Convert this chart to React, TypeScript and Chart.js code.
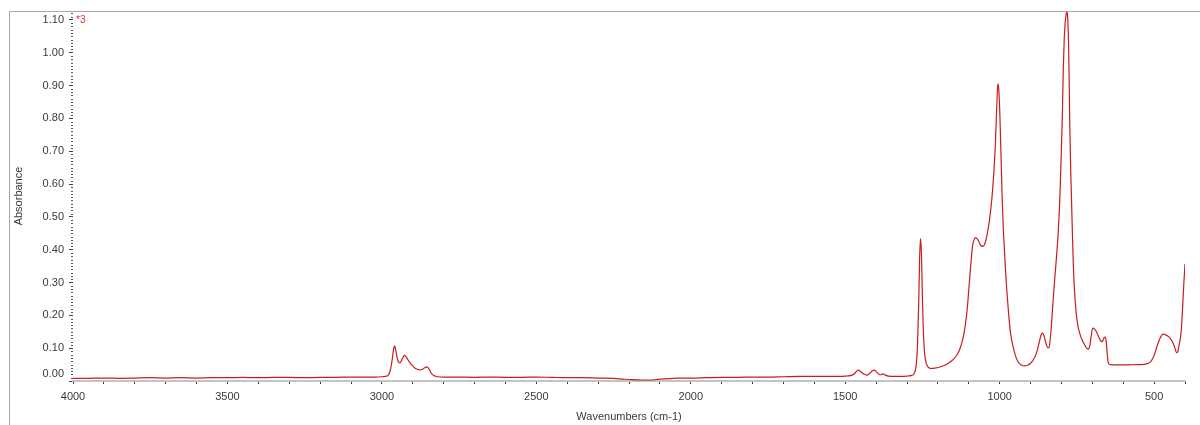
import React, { useEffect, useRef } from "react";
import { Chart, registerables } from "chart.js";

Chart.register(...registerables);

const wavenumbers = [
  4000, 3950, 3900, 3850, 3800, 3750, 3700, 3650, 3600, 3550, 3500, 3450, 3400, 3350, 3300, 3250, 3200, 3150, 3100, 3050,
  3020, 3000, 2990, 2980, 2972, 2966, 2962, 2959, 2956, 2951, 2946, 2942, 2937, 2931, 2927, 2922, 2915, 2908, 2900, 2892,
  2884, 2876, 2868, 2860, 2855, 2850, 2844, 2838, 2830, 2820, 2800, 2750, 2700, 2650, 2600, 2550, 2500, 2450, 2400, 2350,
  2300, 2250, 2220, 2190, 2160, 2130, 2100, 2070, 2040, 2000, 1950, 1900, 1850, 1800, 1750, 1700, 1650, 1600, 1550, 1500,
  1480, 1470, 1463, 1458, 1450, 1440, 1430, 1420, 1412, 1406, 1398, 1390, 1384, 1378, 1370, 1360, 1340, 1320, 1300, 1285,
  1276, 1270, 1266, 1262, 1259, 1256, 1253, 1250, 1247, 1243, 1238, 1232, 1222, 1210, 1195, 1180, 1165, 1150, 1138, 1128,
  1120, 1112, 1105, 1099, 1093, 1088, 1083, 1078, 1072, 1066, 1060, 1054, 1048, 1043, 1038, 1033, 1028, 1023, 1018, 1014,
  1010, 1007, 1005, 1002, 999, 996, 992, 988, 984, 980, 976, 971, 966, 960, 954, 947, 940, 930, 920, 910,
  900, 890, 880, 872, 866, 862, 858, 853, 848, 844, 840, 836, 832, 827, 821, 815, 810, 805, 801, 797,
  794, 791, 788, 785, 783, 781, 779, 777, 775, 773, 770, 767, 764, 761, 757, 752, 746, 740, 733, 726,
  719, 713, 708, 704, 700, 696, 692, 688, 684, 679, 674, 669, 665, 661, 658, 655, 652, 649, 646, 640,
  620, 600, 580, 560, 540, 525, 515, 508, 500, 493, 486, 479, 472, 466, 460, 454, 448, 442, 436, 431,
  427, 423, 419, 415, 412, 409, 406, 403, 400,
];

const absorbance = [
  0.008, 0.008, 0.009, 0.008, 0.009, 0.010, 0.009, 0.010, 0.009, 0.010, 0.010, 0.011, 0.010, 0.011, 0.011, 0.010, 0.011, 0.011, 0.012, 0.012,
  0.012, 0.013, 0.014, 0.017, 0.035, 0.070, 0.098, 0.107, 0.098, 0.072, 0.057, 0.055, 0.062, 0.073, 0.078, 0.074, 0.064, 0.054, 0.046, 0.039,
  0.035, 0.034, 0.036, 0.041, 0.043, 0.040, 0.030, 0.021, 0.016, 0.013, 0.012, 0.012, 0.011, 0.012, 0.011, 0.011, 0.012, 0.011, 0.010, 0.010,
  0.009, 0.008, 0.006, 0.004, 0.003, 0.003, 0.006, 0.007, 0.009, 0.009, 0.010, 0.011, 0.011, 0.012, 0.012, 0.013, 0.014, 0.014, 0.014, 0.015,
  0.017, 0.022, 0.030, 0.033, 0.029, 0.021, 0.018, 0.024, 0.031, 0.033, 0.027, 0.020, 0.019, 0.022, 0.018, 0.015, 0.014, 0.014, 0.015, 0.017,
  0.024, 0.050, 0.110, 0.240, 0.380, 0.434, 0.380, 0.250, 0.150, 0.085, 0.055, 0.043, 0.038, 0.039, 0.042, 0.047, 0.055, 0.066, 0.080, 0.100,
  0.125, 0.165, 0.220, 0.290, 0.360, 0.410, 0.430, 0.437, 0.432, 0.422, 0.412, 0.410, 0.418, 0.435, 0.460, 0.490, 0.530, 0.580, 0.650, 0.720,
  0.820, 0.890, 0.905, 0.875, 0.800, 0.700, 0.560, 0.460, 0.390, 0.320, 0.265, 0.205, 0.155, 0.120, 0.095, 0.072, 0.058, 0.049, 0.046, 0.048,
  0.054, 0.066, 0.088, 0.118, 0.140, 0.146, 0.142, 0.125, 0.108, 0.101, 0.102, 0.130, 0.175, 0.245, 0.320, 0.390, 0.460, 0.560, 0.680, 0.810,
  0.950, 1.040, 1.090, 1.115, 1.125, 1.120, 1.090, 1.030, 0.920, 0.780, 0.640, 0.540, 0.430, 0.340, 0.265, 0.205, 0.165, 0.143, 0.125, 0.112,
  0.101, 0.097, 0.108, 0.135, 0.158, 0.161, 0.157, 0.152, 0.145, 0.133, 0.124, 0.120, 0.125, 0.133, 0.134, 0.120, 0.085, 0.058, 0.052, 0.050,
  0.049, 0.049, 0.049, 0.050, 0.050, 0.052, 0.056, 0.063, 0.078, 0.099, 0.118, 0.133, 0.143, 0.142, 0.139, 0.136, 0.130, 0.122, 0.110, 0.095,
  0.086, 0.090, 0.110, 0.130, 0.155, 0.200, 0.256, 0.310, 0.356,
];

const yTickValues = [0, 0.1, 0.2, 0.3, 0.4, 0.5, 0.6, 0.7, 0.8, 0.9, 1.0, 1.1];
const xLabelStep = 500;
const spectrumLabel = "*3";
const xTitle = "Wavenumbers (cm-1)";
const yTitle = "Absorbance";

export default function App() {
  const ref = useRef<HTMLCanvasElement>(null);

  useEffect(() => {
    const canvas = ref.current;
    if (!canvas) return;
    const FONT = '"Liberation Sans", Arial, sans-serif';

    const decorations = {
      id: "decorations",
      afterDraw(chart: any) {
        const c = chart.ctx;
        const a = chart.chartArea;
        const y = chart.scales.y;
        c.save();
        c.strokeStyle = "#a8a8a8";
        c.lineWidth = 1;
        c.beginPath();
        c.moveTo(9.5, 425);
        c.lineTo(9.5, 11.5);
        c.lineTo(1200, 11.5);
        c.stroke();
        c.strokeStyle = "#555";
        for (let i = 0; i <= 112; i++) {
          if (i % 10 === 0) continue;
          const py = Math.round(y.getPixelForValue(i / 100)) + 0.5;
          c.beginPath();
          c.moveTo(a.left - 2, py);
          c.lineTo(a.left, py);
          c.stroke();
        }
        // y tick labels (the lowest one sits a little above its tick, as in the source)
        c.fillStyle = "#3a3a3a";
        c.font = "11px " + FONT;
        c.textAlign = "right";
        c.textBaseline = "middle";
        yTickValues.forEach((v) => {
          const py = y.getPixelForValue(v) - (v === 0 ? 7 : 0);
          c.fillText(v.toFixed(2), a.left - 9, py);
        });
        c.fillStyle = "#e0303a";
        c.font = "10px " + FONT;
        c.textBaseline = "middle";
        c.textAlign = "left";
        c.fillText(spectrumLabel, a.left + 3, y.getPixelForValue(1.1));
        c.restore();
      },
    };

    const chart = new Chart(canvas, {
      type: "line",
      data: {
        datasets: [
          {
            data: wavenumbers.map((w, i) => ({ x: w, y: absorbance[i] })),
            borderColor: "#c81e1e",
            borderWidth: 1.2,
            pointRadius: 0,
            fill: false,
            cubicInterpolationMode: "monotone",
          },
        ],
      },
      options: {
        responsive: false,
        animation: false,
        devicePixelRatio: 1,
        layout: { padding: { left: 9, right: 15, top: 11, bottom: 0 } },
        plugins: { legend: { display: false }, tooltip: { enabled: false } },
        font: { family: FONT, size: 11 },
        scales: {
          x: {
            type: "linear",
            reverse: true,
            min: 400,
            max: 4000,
            afterFit: (s: any) => {
              s.height = 44;
            },
            ticks: {
              stepSize: 100,
              autoSkip: false,
              maxRotation: 0,
              minRotation: 0,
              padding: 6,
              color: "#3a3a3a",
              font: { family: FONT, size: 11 },
              callback: (v: any) => (Number(v) % xLabelStep === 0 ? String(v) : ""),
            },
            grid: { display: true, drawOnChartArea: false, drawTicks: true, tickLength: 3, color: "#333" },
            border: { display: true, color: "#c4c4c4", width: 2 },
            title: {
              display: true,
              text: xTitle,
              color: "#3a3a3a",
              font: { family: FONT, size: 11 },
              padding: { top: 0, bottom: 1 },
            },
          },
          y: {
            type: "linear",
            min: 0,
            max: 1.127,
            afterFit: (s: any) => {
              s.width = 64;
            },
            afterBuildTicks: (s: any) => {
              s.ticks = yTickValues.map((v) => ({ value: v }));
            },
            ticks: {
              display: false,
            },
            grid: { display: true, drawOnChartArea: false, drawTicks: true, tickLength: 4, color: "#444" },
            border: { display: false },
            title: {
              display: true,
              text: yTitle,
              color: "#3a3a3a",
              font: { family: FONT, size: 11 },
              padding: { top: 3, bottom: 0 },
            },
          },
        },
      },
      plugins: [decorations],
    } as any);

    return () => chart.destroy();
  }, []);

  return (
    <div style={{ position: "absolute", left: 0, top: 0, width: 1200, height: 425, background: "#fff" }}>
      <canvas ref={ref} width={1200} height={425} style={{ display: "block" }} />
    </div>
  );
}
